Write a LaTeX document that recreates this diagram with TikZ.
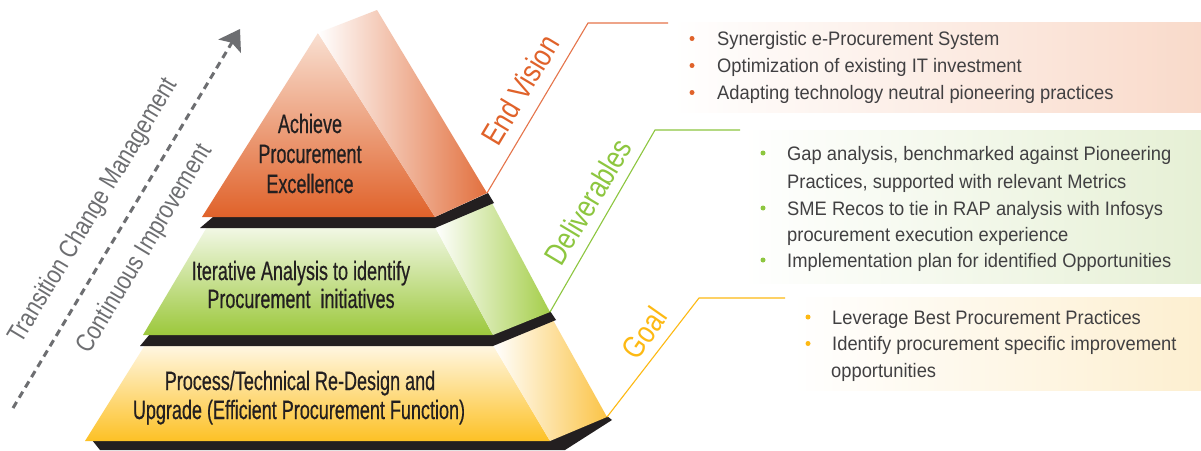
\documentclass[tikz,border=0pt]{standalone}
\usepackage{fontspec}
\setmainfont{Liberation Sans}
\newfontfamily\rtfont{Liberation Sans}[FakeStretch=0.94]
\newfontfamily\pyfont{Liberation Sans}[FakeStretch=0.68,FakeBold=0.5]
\newfontfamily\lbfont{Liberation Sans}[FakeStretch=0.82]
\usetikzlibrary{arrows.meta}
\definecolor{blk}{HTML}{231F20}
\definecolor{orD}{HTML}{E0622A}
\definecolor{orT}{HTML}{F9E0D2}
\definecolor{orS}{HTML}{E2703E}
\definecolor{orLine}{HTML}{E5744A}
\definecolor{grD}{HTML}{9CC83C}
\definecolor{grT}{HTML}{F2F8E6}
\definecolor{grS}{HTML}{A5CE4A}
\definecolor{grLine}{HTML}{8DC63F}
\definecolor{yeD}{HTML}{FDC125}
\definecolor{yeT}{HTML}{FFF7E3}
\definecolor{yeS}{HTML}{FBC447}
\definecolor{yeLine}{HTML}{FDB913}
\definecolor{boxO}{HTML}{F9DACA}
\definecolor{boxG}{HTML}{E6F0D5}
\definecolor{boxY}{HTML}{FDEFD0}
\definecolor{grayc}{HTML}{6D6E71}
\definecolor{pytxt}{HTML}{231F20}
\definecolor{rtcol}{HTML}{414042}
\begin{document}
\begin{tikzpicture}[x=1pt,y=-1pt,
  pyt/.style={font=\pyfont\fontsize{26.5}{30}\selectfont, text=pytxt, inner sep=0, anchor=base},
  rtxt/.style={font=\rtfont\fontsize{19.5}{27}\selectfont, text=rtcol, inner sep=0, anchor=base west},
  blt/.style={circle, inner sep=0, minimum size=5pt},
  sidelbl/.style={font=\lbfont\fontsize{31}{34}\selectfont, inner sep=0},
  leftlbl/.style={font=\lbfont\fontsize{26}{30}\selectfont, text=grayc, rotate=59, inner sep=0},
  leader/.style={line width=1.1pt}
]
\useasboundingbox[fill=white] (0,0) rectangle (1201,450);

% ---------- corner coordinates ----------
\coordinate (tA) at (318,33);   \coordinate (tB) at (377,10);
\coordinate (tL) at (202,217);  \coordinate (tF) at (435,217);
\coordinate (tR) at (487,193);
\coordinate (gTL) at (207,227); \coordinate (gTF) at (435,227);
\coordinate (gTB) at (492,203); \coordinate (gR) at (550,312);
\coordinate (gBF) at (493,335); \coordinate (gBL) at (143,335);
\coordinate (yTL) at (145,345); \coordinate (yTF) at (493,345);
\coordinate (yTB) at (553,320); \coordinate (yR) at (607,417);
\coordinate (yBF) at (550,441); \coordinate (yBL) at (85,441);

% ---------- text boxes ----------
\shade[left color=white, right color=boxO] (673,22) rectangle (1201,112);
\shade[left color=white, right color=boxG] (743,130) rectangle (1201,283);
\shade[left color=white, right color=boxY] (793,297) rectangle (1201,390);

% ---------- pyramid ----------
% bottom black
\fill[blk] (92,440) -- (550,440) -- (607,416) -- (612,420) -- (565,450) -- (100,450) -- cycle;
% yellow tier
\shade[top color=yeT, bottom color=yeD] (yTL) -- (yTF) -- (yBF) -- (yBL) -- cycle;
\shade[left color=white, right color=yeS] (yTF) -- (yTB) -- (yR) -- (yBF) -- cycle;
% black between green and yellow
\fill[blk] (150,334) -- (493,334) -- (550,311) -- (556,320) -- (493,346) -- (140,346) -- cycle;
% green tier
\shade[top color=grT, bottom color=grD] (gTL) -- (gTF) -- (gBF) -- (gBL) -- cycle;
\shade[left color=white, right color=grS] (gTF) -- (gTB) -- (gR) -- (gBF) -- cycle;
% black under top
\fill[blk] (213,217) -- (435,217) -- (488,193) -- (494,203) -- (435,228) -- (200,228) -- cycle;
% top tier
\shade[top color=orT, bottom color=orD] (tA) -- (tF) -- (tL) -- cycle;
\shade[left color=white, right color=orS] (tA) -- (tB) -- (tR) -- (tF) -- cycle;

% ---------- pyramid texts ----------
\node[pyt] (p1a) at (310,133) {Achieve};
\node[pyt] (p1b) at (310,163) {Procurement};
\node[pyt] (p1c) at (310,193) {Excellence};
\node[pyt] (p2a) at (301,280) {Iterative Analysis to identify};
\node[pyt] (p2b) at (301,308) {Procurement\ \ initiatives};
\node[pyt] (p3a) at (300,390) {Process/Technical Re-Design and};
\node[pyt] (p3b) at (299,419) {Upgrade (Efficient Procurement Function)};

% ---------- left arrow and labels ----------
\coordinate (arS) at (13,408);
\coordinate (arE) at (240,29);
\draw[grayc, line width=3pt, dash pattern=on 7pt off 5pt,
      -{Stealth[length=20pt,width=26pt,inset=4pt]}] (arS) -- (arE);
\node[leftlbl] (lt1) at (94,211) {Transition Change Management};
\node[leftlbl] (lt2) at (145,249) {Continuous Improvement};

% ---------- leaders and side labels ----------
\coordinate (evA) at (588,23);  \coordinate (evB) at (668,23);
\coordinate (dvA) at (655,130); \coordinate (dvB) at (740,130);
\coordinate (goA) at (699,298); \coordinate (goB) at (785,298);
\draw[leader, orLine] (tR) -- (evA) -- (evB);
\draw[leader, grLine] (gR) -- (dvA) -- (dvB);
\draw[leader, yeLine] (yR) -- (goA) -- (goB);
\node[sidelbl, text=orD, rotate=59] (lev) at (520,90) {End Vision};
\node[sidelbl, text=grLine, rotate=59] (ldv) at (588,202) {Deliverables};
\node[sidelbl, text=yeLine, rotate=55] (lgo) at (644,333) {Goal};

% ---------- right texts ----------
\node[blt, fill=orD] (ob1) at (692,38.5) {};
\node[blt, fill=orD] (ob2) at (692,65.5) {};
\node[blt, fill=orD] (ob3) at (692,92.5) {};
\node[rtxt] (o1) at (717,45.5) {Synergistic e-Procurement System};
\node[rtxt] (o2) at (717,72.5) {Optimization of existing IT investment};
\node[rtxt] (o3) at (717,99.5) {Adapting technology neutral pioneering practices};

\node[blt, fill=grLine] (gb1) at (763,153) {};
\node[blt, fill=grLine] (gb2) at (763,208) {};
\node[blt, fill=grLine] (gb3) at (763,260) {};
\node[rtxt] (g1) at (787,160) {Gap analysis, benchmarked against Pioneering};
\node[rtxt] (g2) at (787,188) {Practices, supported with relevant Metrics};
\node[rtxt] (g3) at (787,215) {SME Recos to tie in RAP analysis with Infosys};
\node[rtxt] (g4) at (787,241.5) {procurement execution experience};
\node[rtxt] (g5) at (787,267) {Implementation plan for identified Opportunities};

\node[blt, fill=yeLine] (yb1) at (808,317) {};
\node[blt, fill=yeLine] (yb2) at (808,343.5) {};
\node[rtxt] (y1) at (832,324) {Leverage Best Procurement Practices};
\node[rtxt] (y2) at (832,350.5) {Identify procurement specific improvement};
\node[rtxt] (y3) at (831,377) {opportunities};
\end{tikzpicture}
\end{document}
